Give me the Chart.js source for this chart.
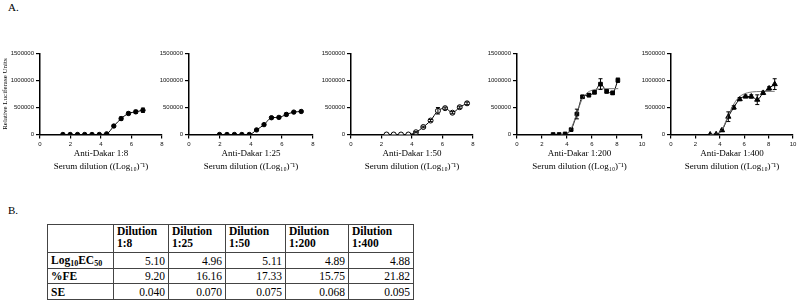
<!DOCTYPE html>
<html><head><meta charset="utf-8">
<script src="https://cdn.jsdelivr.net/npm/chart.js@4.4.0/dist/chart.umd.min.js"></script>
<style>
html,body{margin:0;padding:0;background:#fff;width:800px;height:302px;overflow:hidden;position:relative;font-family:'Liberation Serif','Times New Roman',serif;color:#000;}
canvas{position:absolute;}
.lbl{position:absolute;font-size:11px;}
#tbl{position:absolute;left:47px;top:224px;border-collapse:collapse;font-size:11.5px;border:1.5px solid #333;}
#tbl td{border:1px solid #444;padding:0 3px;line-height:12px;vertical-align:top;}
#tbl td.v{text-align:right;vertical-align:middle;}
#tbl td.h{font-weight:bold;vertical-align:middle;}
#tbl sub{font-size:8px;vertical-align:baseline;position:relative;top:2px;}
</style></head>
<body>
<div class="lbl" style="left:8px;top:1px;">A.</div>
<div class="lbl" style="left:8px;top:204px;">B.</div>
<canvas id="c1" width="168" height="125" style="left:0px;top:48px;"></canvas>
<canvas id="c2" width="170" height="125" style="left:149px;top:48px;"></canvas>
<canvas id="c3" width="168" height="125" style="left:311px;top:48px;"></canvas>
<canvas id="c4" width="171" height="125" style="left:477px;top:48px;"></canvas>
<canvas id="c5" width="168" height="125" style="left:631px;top:48px;"></canvas>
<table id="tbl"></table>
<script>
// ---- Panel data (x = log10 reciprocal serum dilution, y = RLU, e = error) ----
const panelTitles = ['Anti-Dakar 1:8','Anti-Dakar 1:25','Anti-Dakar 1:50','Anti-Dakar 1:200','Anti-Dakar 1:400'];
const xAxisTitle = 'Serum dilution ((Log\u2081\u2080)\u207B\u00B9)';
const yAxisTitle = 'Relative Luciferase Units';
const xMax = [8, 8, 8, 10, 10];

const x18 = [1.50,1.98,2.46,2.93,3.41,3.89,4.37,4.84,5.32,5.80,6.28,6.75];
const y18 = [0,0,0,0,0,0,12000,157000,295000,390000,420000,450000];
const e18 = [0,0,0,0,0,0,8000,20000,30000,25000,30000,40000];

const x25 = [1.97,2.45,2.93,3.41,3.89,4.36,4.84,5.32,5.80,6.28,6.76,7.24];
const y25 = [0,0,0,0,0,85000,183000,311000,317000,372000,415000,427000];
const e25 = [0,0,0,0,0,10000,15000,20000,20000,25000,15000,15000];

const x50 = [2.33,2.80,3.28,3.76,4.26,4.74,5.22,5.70,6.17,6.65,7.13,7.61];
const y50 = [0,0,0,0,42000,139000,259000,440000,488000,404000,506000,578000];
const e50 = [0,0,0,0,10000,15000,20000,60000,20000,20000,20000,25000];

const x200 = [2.89,3.37,3.85,4.33,4.79,5.24,5.75,6.20,6.68,7.17,7.65,8.07];
const y200 = [0,0,10000,90000,380000,700000,730000,783000,934000,800000,771000,1006000];
const e200 = [0,0,5000,15000,90000,25000,30000,30000,100000,30000,30000,40000];
const fitX200 = [3.5,4.0,4.4,4.8,5.2,5.6,6.0,6.6,7.2,8.1];
const fitY200 = [0,20000,150000,400000,650000,770000,820000,845000,850000,850000];

const x400 = [3.21,3.70,4.18,4.70,5.14,5.63,6.11,6.58,7.07,7.55,8.04,8.50];
const y400 = [0,5000,78000,330000,500000,656000,705000,705000,645000,771000,855000,934000];
const e400 = [0,5000,20000,90000,30000,30000,25000,30000,90000,30000,30000,100000];
const fitX400 = [3.2,3.8,4.2,4.6,5.0,5.4,5.8,6.4,7.0,8.5];
const fitY400 = [0,20000,100000,300000,500000,650000,730000,780000,795000,800000];

// ---- Table data ----
const dilutions = ['1:8','1:25','1:50','1:200','1:400'];
const rowLabels = ['Log<sub>10</sub>EC<sub>50</sub>','%FE','SE'];
const log10EC50 = ['5.10','4.96','5.11','4.89','4.88'];
const pctFE = ['9.20','16.16','17.33','15.75','21.82'];
const seVals = ['0.040','0.070','0.075','0.068','0.095'];

const pts = (xs, ys) => xs.map((x, i) => ({x: x, y: ys[i]}));

const errPlugin = {
  id: 'errbars',
  afterDatasetsDraw(chart) {
    const ctx = chart.ctx, xs = chart.scales.x, ys = chart.scales.y;
    chart.data.datasets.forEach(ds => {
      if (!ds.err) return;
      ctx.save();
      ctx.strokeStyle = '#000'; ctx.lineWidth = 1;
      ds.data.forEach((p, i) => {
        const e = ds.err[i]; if (!e) return;
        const px = xs.getPixelForValue(p.x);
        const y1 = ys.getPixelForValue(p.y + e), y2 = ys.getPixelForValue(Math.max(p.y - e, 0));
        ctx.beginPath();
        ctx.moveTo(px, y1); ctx.lineTo(px, y2);
        ctx.moveTo(px - 2, y1); ctx.lineTo(px + 2, y1);
        ctx.moveTo(px - 2, y2); ctx.lineTo(px + 2, y2);
        ctx.stroke();
      });
      ctx.restore();
    });
  }
};

function makeChart(id, idx, datasets, showYTitle) {
  new Chart(document.getElementById(id), {
    type: 'scatter',
    data: {datasets: datasets},
    options: {
      responsive: false, animation: false, devicePixelRatio: 1,
      layout: {padding: {top: 2, right: 6, bottom: 0, left: 0}},
      plugins: {legend: {display: false}, tooltip: {enabled: false}},
      scales: {
        x: {
          type: 'linear', min: 0, max: xMax[idx],
          afterFit(s) { s.height = 38.5; },
          ticks: {stepSize: 2, color: '#111', padding: 2, maxRotation: 0,
            font: {family: 'Liberation Sans', size: 6}},
          grid: {drawOnChartArea: false, drawTicks: true, tickLength: 4, color: '#000', lineWidth: 1.2},
          border: {color: '#000', width: 1.5},
          title: {display: true, text: [panelTitles[idx], xAxisTitle], color: '#000', padding: 0,
            font: {family: 'Liberation Serif', size: 9, lineHeight: 1.45}}
        },
        y: {
          min: 0, max: 1500000,
          afterFit(s) { s.width = 40; },
          ticks: {stepSize: 500000, color: '#111', padding: 2, callback: v => String(v),
            font: {family: 'Liberation Sans', size: 6}},
          grid: {drawOnChartArea: false, drawTicks: true, tickLength: 4, color: '#000', lineWidth: 1.2},
          border: {color: '#000', width: 1.5},
          title: {display: showYTitle, text: yAxisTitle, color: '#000', padding: {top: 1, bottom: 0},
            font: {family: 'Liberation Serif', size: 7, lineHeight: 1.2}}
        }
      }
    },
    plugins: [errPlugin]
  });
}

function dataSet(xs, ys, es, style, fill, radius) {
  return {
    data: pts(xs, ys), err: es, showLine: true, borderColor: '#000', borderWidth: 1,
    cubicInterpolationMode: 'monotone',
    pointStyle: style, pointRadius: radius, pointBackgroundColor: fill,
    pointBorderColor: '#000', pointBorderWidth: 1
  };
}
function fitSet(xs, ys) {
  return {data: pts(xs, ys), showLine: true, borderColor: '#777', borderWidth: 1,
    cubicInterpolationMode: 'monotone', pointRadius: 0};
}

makeChart('c1', 0, [dataSet(x18, y18, e18, 'circle', '#000', 2.2)], true);
makeChart('c2', 1, [dataSet(x25, y25, e25, 'circle', '#000', 2.2)], false);
makeChart('c3', 2, [dataSet(x50, y50, e50, 'circle', '#fff', 2.5)], false);
makeChart('c4', 3, [fitSet(fitX200, fitY200), dataSet(x200, y200, e200, 'rect', '#000', 2.6)], false);
makeChart('c5', 4, [fitSet(fitX400, fitY400), dataSet(x400, y400, e400, 'triangle', '#000', 3)], false);

// ---- Build table from arrays ----
const colW = [66, 55, 57, 60, 63, 65];
const rowH = [28, 16, 15, 16];
const tbl = document.getElementById('tbl');
let html = '<colgroup>' + colW.map(w => '<col style="width:' + w + 'px">').join('') + '</colgroup>';
html += '<tr style="height:' + rowH[0] + 'px"><td></td>' +
  dilutions.map(d => '<td style="font-weight:bold">Dilution<br>' + d + '</td>').join('') + '</tr>';
[log10EC50, pctFE, seVals].forEach((row, r) => {
  html += '<tr style="height:' + rowH[r + 1] + 'px"><td class="h">' + rowLabels[r] + '</td>' +
    row.map(v => '<td class="v">' + v + '</td>').join('') + '</tr>';
});
tbl.innerHTML = html;
tbl.style.width = colW.reduce((a, b) => a + b, 0) + 'px';
tbl.style.tableLayout = 'fixed';
</script>
</body></html>
